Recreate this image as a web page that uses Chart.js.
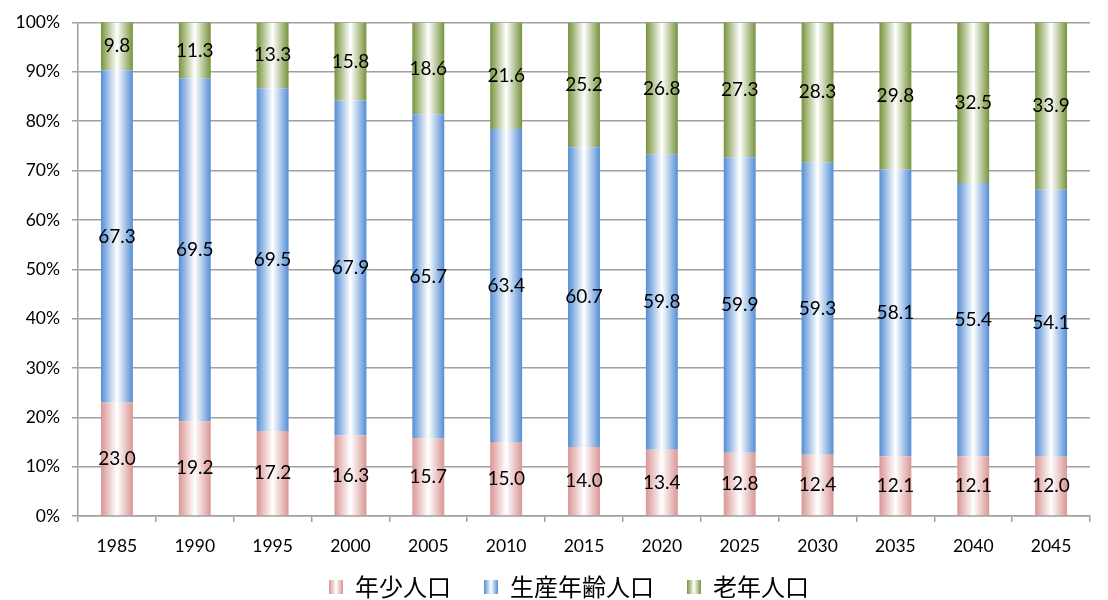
<!DOCTYPE html>
<html>
<head>
<meta charset="utf-8">
<script src="https://cdn.jsdelivr.net/npm/chart.js@4"></script>
<style>
  html, body { margin: 0; padding: 0; background: #fff; }
  #wrap { width: 1108px; height: 600px; }
</style>
</head>
<body>
<div id="wrap"><canvas id="grafico"></canvas></div>
<script>
// datos
var anios = ["1985", "1990", "1995", "2000", "2005", "2010", "2015", "2020", "2025", "2030", "2035", "2040", "2045"];
var nenshou = [23.0, 19.2, 17.2, 16.3, 15.7, 15.0, 14.0, 13.4, 12.8, 12.4, 12.1, 12.1, 12.0];
var seisan = [67.3, 69.5, 69.5, 67.9, 65.7, 63.4, 60.7, 59.8, 59.9, 59.3, 58.1, 55.4, 54.1];
var rounen = [9.8, 11.3, 13.3, 15.8, 18.6, 21.6, 25.2, 26.8, 27.3, 28.3, 29.8, 32.5, 33.9];
var etiquetasY = ["0%", "10%", "20%", "30%", "40%", "50%", "60%", "70%", "80%", "90%", "100%"];

var BAR_PCT = 0.41;
var FUENTE = "Lato, 'Liberation Sans', sans-serif";
var FUENTE_JP = "'Noto Sans CJK JP', sans-serif";

// degradado horizontal: color - blanco - color
function degradado(ctx, x0, x1, color) {
    var g = ctx.createLinearGradient(x0, 0, x1, 0);
    g.addColorStop(0, color);
    g.addColorStop(0.5, "#ffffff");
    g.addColorStop(1, color);
    return g;
}

function colorBarra(color) {
    return function (c) {
        var chart = c.chart;
        var xs = chart.scales.x;
        if (!xs || !chart.chartArea) return color;
        var centro = xs.getPixelForValue(c.dataIndex);
        var mitad = (xs.width / anios.length) * BAR_PCT / 2;
        return degradado(chart.ctx, centro - mitad, centro + mitad, color);
    };
}

function iconoLeyenda(color) {
    var cv = document.createElement("canvas");
    cv.width = 14;
    cv.height = 14;
    var cx = cv.getContext("2d");
    cx.fillStyle = degradado(cx, 0, 14, color);
    cx.fillRect(0, 0, 14, 14);
    return cv;
}

// etiquetas de valores en el centro de cada segmento
var etiquetasValor = {
    id: "etiquetasValor",
    afterDatasetsDraw: function (chart) {
        var ctx = chart.ctx;
        ctx.save();
        ctx.font = "19px " + FUENTE;
        ctx.fillStyle = "#000";
        ctx.textAlign = "center";
        ctx.textBaseline = "middle";
        chart.data.datasets.forEach(function (ds, i) {
            chart.getDatasetMeta(i).data.forEach(function (el, j) {
                var y = (el.y + el.base) / 2;
                ctx.fillText(ds.data[j].toFixed(1), el.x, y);
            });
        });
        ctx.restore();
    }
};

// leyenda: altura fija y dibujo desplazado (el padding separa los elementos)
var ajusteLeyenda = {
    id: "ajusteLeyenda",
    afterInit: function (chart) {
        var lg = chart.legend;
        if (!lg) return;
        var fitOrig = lg.fit;
        lg.fit = function () {
            fitOrig.call(this);
            this.height = 42;
        };
        var drawOrig = lg.draw;
        lg.draw = function () {
            var t = this.top, l = this.left, r = this.right;
            this.top = t - 16;
            this.left = l + 24;
            this.right = r + 24;
            drawOrig.apply(this, arguments);
            this.top = t;
            this.left = l;
            this.right = r;
        };
    }
};

var colores = ["#d99694", "#558ed5", "#77933c"];

new Chart(document.getElementById("grafico"), {
    type: "bar",
    data: {
        labels: anios,
        datasets: [
            { label: "年少人口", data: nenshou, backgroundColor: colorBarra(colores[0]), pointStyle: iconoLeyenda(colores[0]) },
            { label: "生産年齢人口", data: seisan, backgroundColor: colorBarra(colores[1]), pointStyle: iconoLeyenda(colores[1]) },
            { label: "老年人口", data: rounen, backgroundColor: colorBarra(colores[2]), pointStyle: iconoLeyenda(colores[2]) }
        ]
    },
    plugins: [etiquetasValor, ajusteLeyenda],
    options: {
        responsive: true,
        maintainAspectRatio: false,
        animation: false,
        barPercentage: BAR_PCT,
        categoryPercentage: 1,
        layout: { padding: { top: 14, right: 18, left: 0, bottom: 0 } },
        scales: {
            x: {
                stacked: true,
                grid: { display: true, drawOnChartArea: false, offset: true, tickLength: 6, color: "#a0a0a0", lineWidth: 1.5 },
                border: { display: true, color: "#a0a0a0", width: 1.5 },
                ticks: { color: "#000", font: { size: 17.5, family: FUENTE }, padding: 14, maxRotation: 0 },
                afterFit: function (s) { s.height = 42; }
            },
            y: {
                stacked: true,
                min: 0,
                max: 100,
                grid: { color: "#a0a0a0", lineWidth: 1.5, tickLength: 6 },
                border: { display: true, color: "#a0a0a0", width: 1.5 },
                ticks: {
                    stepSize: 10,
                    color: "#000",
                    padding: 12,
                    font: { size: 17.5, family: FUENTE },
                    callback: function (v) { return etiquetasY[Math.round(v / 10)]; }
                },
                afterFit: function (s) { s.width = 78; }
            }
        },
        plugins: {
            legend: {
                position: "bottom",
                labels: {
                    usePointStyle: true,
                    color: "#000",
                    font: { size: 24, family: FUENTE_JP },
                    padding: 33,
                    boxWidth: 14,
                    boxHeight: 14
                }
            },
            tooltip: { enabled: false }
        }
    }
});
</script>
</body>
</html>
